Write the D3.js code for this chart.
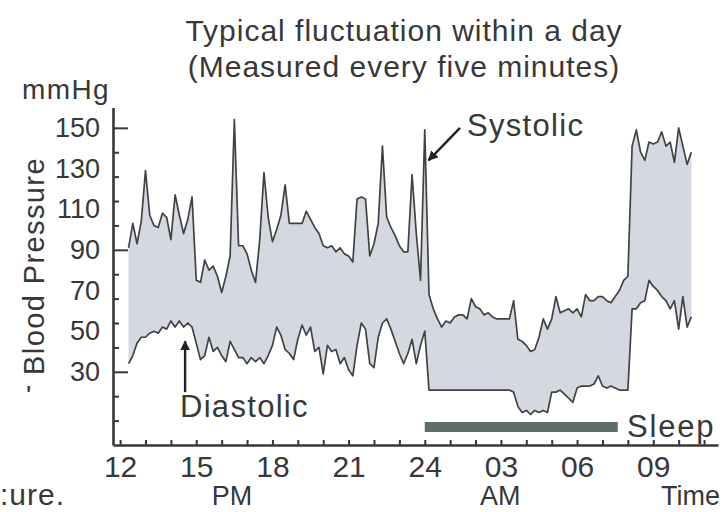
<!DOCTYPE html>
<html>
<head>
<meta charset="utf-8">
<script src="https://cdn.jsdelivr.net/npm/d3@7"></script>
<style>
  body { margin: 0; background: #fff; }
  svg { display: block; font-family: "Liberation Sans", Arial, sans-serif; }
</style>
</head>
<body>
<div id="chart"></div>
<script>
// readings every 10 minutes from 12:20; hours keep counting past 24 into the morning
const startHour = 12 + 20 / 60;
const stepMinutes = 10;

const systolic = [
  91, 103, 93, 104, 129, 107, 102, 101, 108, 106,
  95, 117, 107, 98, 105, 116, 75, 74, 85, 80,
  82, 77, 69, 77, 87, 154, 92, 92, 88, 80,
  74, 95, 128, 106, 94, 100, 107, 122, 103, 103,
  103, 103, 109, 105, 101, 98, 92, 91, 92, 89,
  91, 88, 87, 84, 115, 116, 115, 87, 93, 103,
  141, 106, 101, 97, 92, 89, 89, 127, 98, 75,
  149, 68, 61, 56, 52, 55, 54, 57, 58, 58,
  56, 66, 62, 61, 58, 59, 57, 56, 56, 56,
  56, 65, 46, 45, 43, 40, 41, 47, 56, 51,
  56, 67, 59, 60, 61, 59, 61, 57, 68, 65,
  65, 67, 67, 65, 64, 67, 70, 75, 77, 141,
  149, 138, 134, 143, 142, 143, 148, 141, 143, 133,
  150, 141, 132, 138
];

const diastolic = [
  34, 38, 44, 47, 47, 49, 50, 49, 52, 51,
  55, 52, 55, 52, 54, 52, 44, 36, 38, 47,
  40, 42, 38, 35, 45, 41, 37, 37, 34, 37,
  35, 37, 34, 38, 43, 52, 48, 41, 39, 36,
  46, 53, 48, 52, 40, 42, 29, 43, 40, 41,
  34, 37, 31, 28, 43, 54, 51, 34, 32, 47,
  54, 56, 51, 45, 39, 34, 39, 46, 34, 43,
  50, 21, 21, 21, 21, 21, 21, 21, 21, 21,
  21, 21, 21, 21, 21, 21, 21, 21, 21, 21,
  21, 20, 13, 10, 11, 9, 11, 10, 11, 10,
  20, 20, 21, 19, 17, 15, 22, 23, 23, 23,
  24, 28, 23, 22, 23, 22, 21, 21, 21, 61,
  61, 64, 65, 75, 72, 70, 67, 65, 61, 65,
  51, 67, 52, 57
];

const hourTicks = d3.range(12, 36);
const hourLabels = [12, 15, 18, 21, 24, 27, 30, 33];
const pressureTicks = d3.range(150, 0, -12);
const majorPressure = [150, 90, 30];
const pressureLabels = [150, 130, 110, 90, 70, 50, 30];
const sleepSpan = [24, 31.6];

const width = 723, height = 512;
const ink = "#383838";

const svg = d3.select("#chart").append("svg")
    .attr("width", width)
    .attr("height", height);

const x = d3.scaleLinear().domain([11.72, 35.55]).range([113, 718]);
const y = d3.scaleLinear().domain([-6, 160]).range([445, 107.5]);

const data = systolic.map((s, i) => ({
  t: startHour + i * stepMinutes / 60,
  sys: s,
  dia: diastolic[i]
}));

// shaded band between the two pressures
svg.append("path")
    .attr("fill", "#d4d9e1")
    .attr("d", d3.area()
        .x(d => x(d.t))
        .y0(d => y(d.dia))
        .y1(d => y(d.sys))(data));

["sys", "dia"].forEach(k => {
  svg.append("path")
      .attr("fill", "none")
      .attr("stroke", "#424242")
      .attr("stroke-width", 1.7)
      .attr("stroke-linejoin", "round")
      .attr("d", d3.line().x(d => x(d.t)).y(d => y(d[k]))(data));
});

// sleep bar
svg.append("rect")
    .attr("x", x(sleepSpan[0]))
    .attr("y", y(5.3))
    .attr("width", x(sleepSpan[1]) - x(sleepSpan[0]))
    .attr("height", y(0.4) - y(5.3))
    .attr("fill", "#5e6b6b");

// y axis: ticks point inward, long ones at 150 / 90 / 30
svg.append("g")
    .attr("transform", `translate(${x(11.72)},0)`)
    .call(d3.axisLeft(y).tickValues(pressureTicks).tickSizeOuter(0).tickFormat(""))
    .call(g => g.select(".domain").attr("stroke", ink).attr("stroke-width", 2.6))
    .call(g => g.selectAll(".tick line")
        .attr("stroke", ink)
        .attr("stroke-width", 2)
        .attr("x1", 0)
        .attr("x2", d => majorPressure.includes(d) ? 15 : 6));

svg.append("g")
    .attr("transform", `translate(${x(11.72)},0)`)
    .call(d3.axisLeft(y).tickValues(pressureLabels).tickSize(0).tickPadding(13))
    .call(g => g.select(".domain").remove())
    .call(g => g.selectAll("text")
        .attr("font-size", 27)
        .attr("font-family", "Liberation Sans, Arial, sans-serif")
        .attr("fill", ink));

// x axis
svg.append("g")
    .attr("transform", `translate(0,${y(-6)})`)
    .call(d3.axisBottom(x).tickValues(hourTicks).tickSize(-5).tickSizeOuter(0).tickFormat(""))
    .call(g => g.select(".domain").attr("stroke", ink).attr("stroke-width", 2.6))
    .call(g => g.selectAll(".tick line").attr("stroke", ink).attr("stroke-width", 2));

svg.append("g")
    .attr("transform", `translate(0,${y(-6)})`)
    .call(d3.axisBottom(x).tickValues(hourLabels).tickSize(0).tickPadding(11)
        .tickFormat(h => h <= 24 ? String(h) : String(h - 24).padStart(2, "0")))
    .call(g => g.select(".domain").remove())
    .call(g => g.selectAll("text")
        .attr("font-size", 30)
        .attr("font-family", "Liberation Sans, Arial, sans-serif")
        .attr("fill", ink));

// arrow heads
svg.append("defs").append("marker")
    .attr("id", "head")
    .attr("viewBox", "0 0 10 10")
    .attr("refX", 9).attr("refY", 5)
    .attr("markerWidth", 4.2).attr("markerHeight", 4.2)
    .attr("markerUnits", "strokeWidth")
    .attr("orient", "auto")
  .append("path")
    .attr("d", "M0,0L10,5L0,10z")
    .attr("fill", "#222");

svg.append("line")
    .attr("x1", x(25.39)).attr("y1", y(150))
    .attr("x2", x(24.15)).attr("y2", y(134))
    .attr("stroke", "#222").attr("stroke-width", 2.4)
    .attr("marker-end", "url(#head)");

svg.append("line")
    .attr("x1", x(14.56)).attr("y1", y(20))
    .attr("x2", x(14.56)).attr("y2", y(45))
    .attr("stroke", "#222").attr("stroke-width", 2.4)
    .attr("marker-end", "url(#head)");

// texts
const txt = (s, px, py, size, opts = {}) => svg.append("text")
    .attr("x", px).attr("y", py)
    .attr("font-size", size)
    .attr("fill", ink)
    .attr("letter-spacing", opts.ls || 0)
    .attr("text-anchor", opts.anchor || "start")
    .text(s);

txt("Typical fluctuation within a day", 404, 41, 30, {anchor: "middle", ls: 1});
txt("(Measured every five minutes)", 404, 77, 30, {anchor: "middle", ls: 1});
txt("mmHg", 22, 99, 28, {ls: 1.4});
txt("Systolic", 467, 136, 31, {ls: 1.3});
txt("Diastolic", 180, 417, 31, {ls: 1.3});
txt("Sleep", 627, 437, 31, {ls: 1.8});
txt("PM", x(16.41), 505, 27, {anchor: "middle"});
txt("AM", x(26.97), 505, 27, {anchor: "middle"});
txt("Time", 720, 505, 27, {anchor: "end"});
txt(":ure.", 0, 505, 30, {ls: 1});
txt("'", 26, 405, 28);

svg.append("text")
    .attr("transform", "translate(44,266) rotate(-90)")
    .attr("text-anchor", "middle")
    .attr("font-size", 29)
    .attr("letter-spacing", 1.4)
    .attr("fill", ink)
    .text("Blood Pressure");
</script>
</body>
</html>
